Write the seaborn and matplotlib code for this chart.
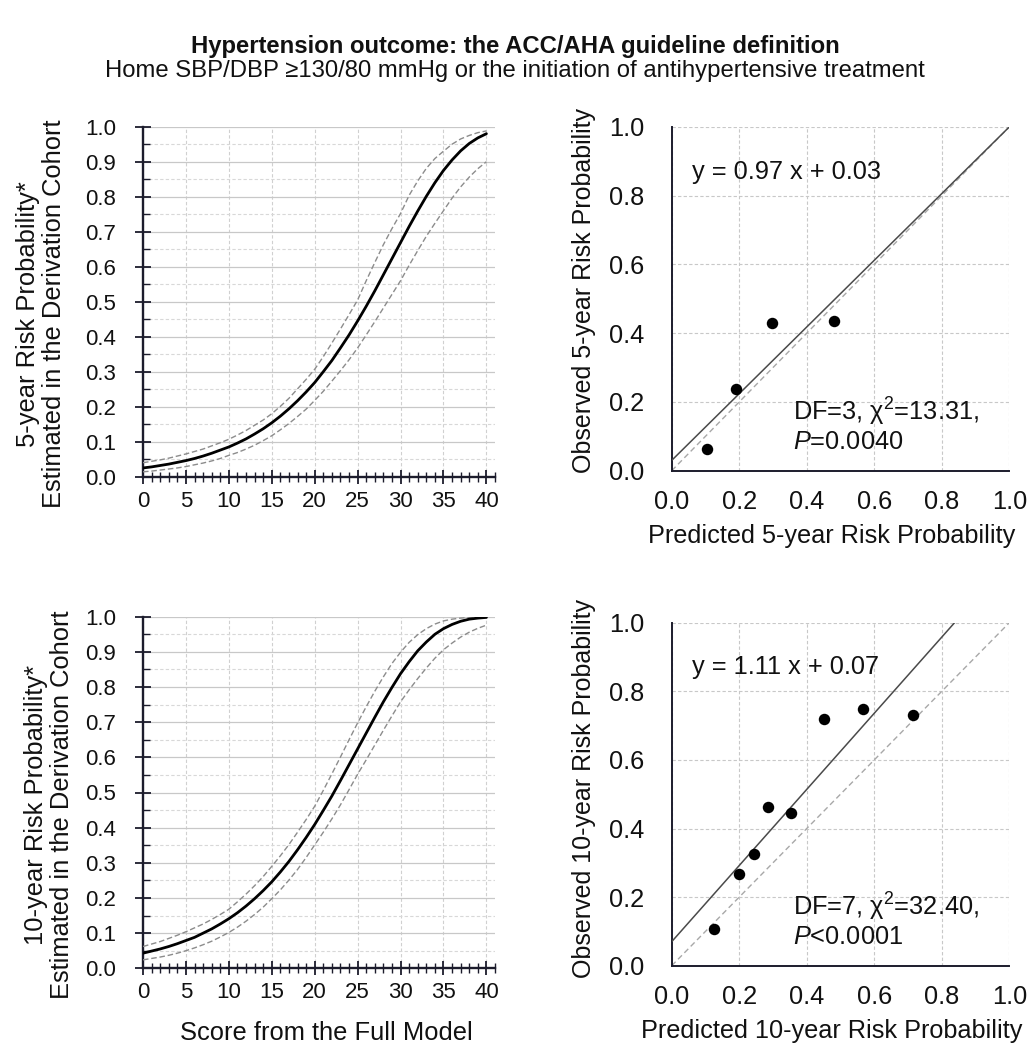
import numpy as np
import pandas as pd
import matplotlib
matplotlib.use("Agg")
import matplotlib.pyplot as plt
from matplotlib.ticker import MultipleLocator, FormatStrFormatter
import seaborn as sns

# ---------------- data ----------------
score = list(range(0, 41))

risk5 = [0.025, 0.028, 0.032, 0.036, 0.041, 0.046, 0.052, 0.059, 0.067, 0.076,
         0.085, 0.096, 0.108, 0.122, 0.137, 0.154, 0.173, 0.194, 0.217, 0.242,
         0.269, 0.300, 0.332, 0.368, 0.405, 0.445, 0.487, 0.531, 0.577, 0.623,
         0.669, 0.715, 0.759, 0.801, 0.840, 0.875, 0.905, 0.931, 0.952, 0.968, 0.980]
upper5 = [0.040, 0.044, 0.048, 0.053, 0.059, 0.065, 0.072, 0.079, 0.088, 0.097,
          0.107, 0.119, 0.132, 0.147, 0.162, 0.180, 0.201, 0.224, 0.251, 0.278,
          0.307, 0.343, 0.382, 0.422, 0.463, 0.505, 0.560, 0.612, 0.663, 0.709,
          0.752, 0.804, 0.845, 0.881, 0.909, 0.930, 0.950, 0.965, 0.975, 0.983, 0.988]
lower5 = [0.014, 0.016, 0.019, 0.022, 0.025, 0.029, 0.034, 0.039, 0.045, 0.052,
          0.061, 0.069, 0.079, 0.090, 0.103, 0.117, 0.134, 0.152, 0.172, 0.193,
          0.218, 0.244, 0.273, 0.303, 0.334, 0.368, 0.405, 0.443, 0.482, 0.521,
          0.560, 0.604, 0.646, 0.687, 0.724, 0.760, 0.796, 0.828, 0.856, 0.880, 0.900]

risk10 = [0.043, 0.049, 0.055, 0.062, 0.070, 0.079, 0.088, 0.100, 0.112, 0.126,
          0.141, 0.158, 0.177, 0.198, 0.221, 0.246, 0.274, 0.304, 0.337, 0.372,
          0.409, 0.449, 0.490, 0.534, 0.579, 0.624, 0.669, 0.714, 0.758, 0.799,
          0.838, 0.872, 0.903, 0.928, 0.950, 0.966, 0.978, 0.987, 0.993, 0.996, 0.998]
upper10 = [0.062, 0.069, 0.076, 0.085, 0.094, 0.104, 0.115, 0.126, 0.139, 0.153,
           0.168, 0.189, 0.211, 0.235, 0.261, 0.290, 0.320, 0.352, 0.387, 0.423,
           0.461, 0.506, 0.553, 0.601, 0.650, 0.698, 0.744, 0.788, 0.829, 0.867,
           0.899, 0.927, 0.949, 0.966, 0.979, 0.988, 0.993, 0.996, 0.998, 0.999, 1.000]
lower10 = [0.024, 0.028, 0.032, 0.037, 0.043, 0.050, 0.058, 0.067, 0.077, 0.089,
           0.102, 0.117, 0.134, 0.153, 0.174, 0.198, 0.223, 0.251, 0.281, 0.315,
           0.351, 0.387, 0.425, 0.465, 0.508, 0.552, 0.593, 0.635, 0.677, 0.718,
           0.758, 0.792, 0.824, 0.854, 0.882, 0.906, 0.925, 0.942, 0.956, 0.967, 0.976]

pred5 = [0.106, 0.190, 0.298, 0.481]
obs5 = [0.063, 0.237, 0.431, 0.436]
slope5, intercept5 = 0.97, 0.03

pred10 = [0.125, 0.200, 0.245, 0.286, 0.353, 0.451, 0.568, 0.714]
obs10 = [0.107, 0.267, 0.327, 0.462, 0.444, 0.718, 0.747, 0.730]
slope10, intercept10 = 1.11, 0.07

title = "Hypertension outcome: the ACC/AHA guideline definition"
subtitle = "Home SBP/DBP \u2265130/80 mmHg or the initiation of antihypertensive treatment"

# ---------------- style ----------------
sns.set_theme(style="white")
plt.rcParams['font.family'] = ['Liberation Sans', 'DejaVu Sans']
plt.rcParams['mathtext.fontset'] = 'custom'
plt.rcParams['mathtext.rm'] = 'Liberation Sans'
plt.rcParams['mathtext.it'] = 'Liberation Sans:italic'

W, H = 1030, 1048
fig = plt.figure(figsize=(W / 100, H / 100), dpi=100)

def rect(l, t, r, b):
    return [l / W, 1 - b / H, (r - l) / W, (b - t) / H]

axis_c = '#1c1c2c'
text_c = '#111111'


def risk_panel(ax, main, up, lo, ylabel, ylab_right_px, xlabel=None):
    df = pd.DataFrame({'score': score, 'main': main, 'up': up, 'lo': lo})
    sns.lineplot(data=df, x='score', y='up', ax=ax, color='#8c8c8c', lw=1.0,
                 linestyle=(0, (4, 2)), zorder=3)
    sns.lineplot(data=df, x='score', y='lo', ax=ax, color='#8c8c8c', lw=1.0,
                 linestyle=(0, (4, 2)), zorder=3)
    sns.lineplot(data=df, x='score', y='main', ax=ax, color='black', lw=2.0, zorder=4)
    ax.set_xlim(0, 41)
    ax.set_ylim(0, 1.0)
    ax.xaxis.set_major_locator(MultipleLocator(5))
    ax.xaxis.set_minor_locator(MultipleLocator(1))
    ax.yaxis.set_major_locator(MultipleLocator(0.1))
    ax.yaxis.set_minor_locator(MultipleLocator(0.05))
    ax.yaxis.set_major_formatter(FormatStrFormatter('%.1f'))
    ax.grid(False)
    ax.grid(which='major', axis='y', color='#c8c8c8', lw=0.9, ls='-', zorder=0)
    ax.grid(which='minor', axis='y', color='#d8d8d8', lw=0.8, ls=(0, (3, 2)), zorder=0)
    ax.grid(which='major', axis='x', color='#d0d0d0', lw=0.8, ls=(0, (3, 2)), zorder=0)
    for s in ['top', 'right']:
        ax.spines[s].set_visible(False)
    for s in ['left', 'bottom']:
        ax.spines[s].set_color(axis_c)
        ax.spines[s].set_linewidth(1.7)
    ax.tick_params(axis='x', which='major', direction='inout', length=10, width=1.3,
                   color=axis_c, labelsize=16, pad=5, bottom=True)
    ax.tick_params(axis='x', which='minor', direction='inout', length=7, width=1.0,
                   color=axis_c, bottom=True)
    ax.tick_params(axis='y', which='major', direction='inout', length=11, width=1.3,
                   color=axis_c, labelsize=16, pad=14, left=True)
    ax.tick_params(axis='y', which='minor', direction='in', length=5, width=1.0,
                   color=axis_c, left=True)
    ax.set_ylabel(ylabel, fontsize=18.4, linespacing=1.12, color=text_c)
    ax.yaxis.set_label_coords((ylab_right_px - 143) / 352, 0.5 - 12 / 351)
    ax.set_xlabel(xlabel if xlabel else '', fontsize=18.4, color=text_c)
    ax.xaxis.set_label_coords(0.521, -0.15)
    for t in ax.get_xticklabels() + ax.get_yticklabels():
        t.set_color(text_c)


def calib_panel(ax, pred, obs, slope, intercept, eq, stat1, stat2, ylabel, xlabel,
                ylab_shift_px):
    ax.axline((0, 0), slope=1, color='#a8a8a8', lw=1.0, ls=(0, (4, 2.5)), zorder=2)
    ax.axline((0, intercept), slope=slope, color='#4a4a4a', lw=1.1, zorder=3)
    sns.scatterplot(x=pred, y=obs, ax=ax, color='black', s=68, edgecolor='black',
                    linewidth=0, zorder=5)
    ax.set_xlim(0, 1.0)
    ax.set_ylim(0, 1.0)
    ax.xaxis.set_major_locator(MultipleLocator(0.2))
    ax.yaxis.set_major_locator(MultipleLocator(0.2))
    ax.xaxis.set_major_formatter(FormatStrFormatter('%.1f'))
    ax.yaxis.set_major_formatter(FormatStrFormatter('%.1f'))
    ax.grid(True, which='major', color='#c8c8c8', lw=0.8, ls=(0, (3, 2)), zorder=0)
    for s in ['top', 'right']:
        ax.spines[s].set_visible(False)
    for s in ['left', 'bottom']:
        ax.spines[s].set_color(axis_c)
        ax.spines[s].set_linewidth(1.4)
    ax.tick_params(axis='both', which='major', length=0, labelsize=18.3, pad=14)
    ax.tick_params(axis='y', pad=20)
    for t in ax.get_xticklabels() + ax.get_yticklabels():
        t.set_color(text_c)
    ax.text(0.06, 0.87, eq, fontsize=18.3, va='center', ha='left', color=text_c)
    ax.text(0.36, 0.172, stat1, fontsize=18.3, va='center', ha='left', color=text_c)
    ax.text(0.36, 0.084, stat2, fontsize=18.3, va='center', ha='left', color=text_c)
    ax.set_ylabel(ylabel, fontsize=18, color=text_c)
    ax.yaxis.set_label_coords((596 - 671.7) / 337.6, 0.5 + ylab_shift_px / 343.8)
    ax.set_xlabel(xlabel, fontsize=18.2, color=text_c)
    ax.xaxis.set_label_coords(0.473, -0.155)


ax1 = fig.add_axes(rect(143, 126.7, 495, 476.7))
risk_panel(ax1, risk5, upper5, lower5,
           "5-year Risk Probability*\nEstimated in the Derivation Cohort", 66)

ax3 = fig.add_axes(rect(143, 616.7, 495, 968.3))
risk_panel(ax3, risk10, upper10, lower10,
           "10-year Risk Probability*\nEstimated in the Derivation Cohort", 74,
           "Score from the Full Model")

ax2 = fig.add_axes(rect(671.7, 126.9, 1009.3, 470.7))
calib_panel(ax2, pred5, obs5, slope5, intercept5, "y = 0.97 x + 0.03",
            "DF=3, \u03c7$^2$=13.31,", "$\\it{P}$=0.0040",
            "Observed 5-year Risk Probability", "Predicted 5-year Risk Probability", 8)

ax4 = fig.add_axes(rect(671.7, 622.7, 1009.3, 965.7))
calib_panel(ax4, pred10, obs10, slope10, intercept10, "y = 1.11 x + 0.07",
            "DF=7, \u03c7$^2$=32.40,", "$\\it{P}$<0.0001",
            "Observed 10-year Risk Probability", "Predicted 10-year Risk Probability", 6)

fig.text(0.5, 1 - 46 / H, title, ha='center', va='center', fontsize=17.2,
         fontweight='bold', color=text_c)
fig.text(0.5, 1 - 71 / H, subtitle, ha='center', va='center', fontsize=17.2,
         color=text_c)

fig.savefig('out.png', dpi=100)
